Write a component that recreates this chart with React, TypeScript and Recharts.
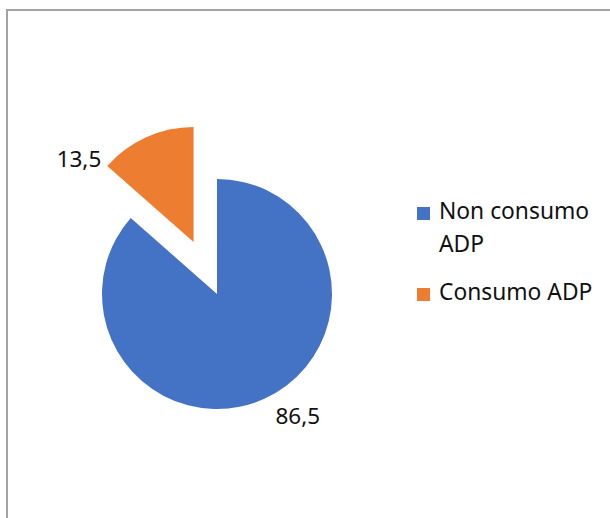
import React from "react";
import { PieChart, Pie, Cell, Legend } from "recharts";

const categories = ["Non consumo ADP", "Consumo ADP"];
const values = [86.5, 13.5];
const valueLabels = ["86,5", "13,5"];
const colors = ["#4472C4", "#ED7D31"];

const data = categories.map((name, i) => ({ name, value: values[i] }));

const CX = 209;
const CY = 283;
const R = 115;
const EXPLODE = 57;
const FONT = "'Noto Sans', sans-serif";

// explode offset of second slice, from its mid angle (clockwise from top)
const total = values.reduce((a, b) => a + b, 0);
const orangeMidFrac = (values[0] + values[1] / 2) / total;
const orangeMidRad = ((90 - 360 * orangeMidFrac) * Math.PI) / 180;
const DX = EXPLODE * Math.cos(orangeMidRad);
const DY = -EXPLODE * Math.sin(orangeMidRad);

// label layout tweaks (angle shift in degrees, radial distance)
const labelLayout = [
  { shift: 9.3, dist: 146 },
  { shift: 29.5, dist: 142 },
];

const RAD = Math.PI / 180;

function makeLabel(only: number) {
  return (props: any) => {
    const { cx, cy, midAngle, index } = props;
    if (index !== only) return null;
    const lay = labelLayout[index];
    const a = (midAngle + lay.shift) * RAD;
    const x = cx + lay.dist * Math.cos(a);
    const y = cy - lay.dist * Math.sin(a);
    return (
      <text
        x={x}
        y={y}
        textAnchor="middle"
        dominantBaseline="central"
        fill="#111"
        fontSize={22.5}
        fontFamily={FONT}
      >
        {valueLabels[index]}
      </text>
    );
  };
}

const LegendContent = () => (
  <div style={{ fontFamily: FONT, fontSize: 22.8, lineHeight: "33px", color: "#111" }}>
    {categories.map((c, i) => (
      <div key={c} style={{ display: "flex", alignItems: "flex-start", marginBottom: 15 }}>
        <div
          style={{
            width: 13,
            height: 13,
            background: colors[i],
            marginTop: 13,
            marginRight: 9,
            flex: "0 0 auto",
          }}
        />
        <div style={{ width: 164 }}>{c}</div>
      </div>
    ))}
  </div>
);

export default function App() {
  return (
    <div
      style={{
        position: "absolute",
        left: 6,
        top: 9,
        width: 604,
        height: 509,
        borderTop: "2px solid #a3a3a3",
        borderLeft: "2px solid #a3a3a3",
        boxSizing: "border-box",
        background: "#fff",
        overflow: "hidden",
      }}
    >
      <PieChart width={602} height={507} margin={{ top: 0, right: 0, bottom: 0, left: 0 }}>
        <Pie
          data={data}
          dataKey="value"
          nameKey="name"
          cx={CX}
          cy={CY}
          outerRadius={R}
          startAngle={90}
          endAngle={-270}
          stroke="none"
          isAnimationActive={false}
          label={makeLabel(0)}
          labelLine={false}
        >
          {data.map((d, i) => (
            <Cell key={d.name} fill={i === 0 ? colors[0] : "none"} />
          ))}
        </Pie>
        <Pie
          data={data}
          dataKey="value"
          nameKey="name"
          cx={CX + DX}
          cy={CY + DY}
          outerRadius={R}
          startAngle={90}
          endAngle={-270}
          stroke="none"
          isAnimationActive={false}
          label={makeLabel(1)}
          labelLine={false}
        >
          {data.map((d, i) => (
            <Cell key={d.name} fill={i === 1 ? colors[1] : "none"} />
          ))}
        </Pie>
        <Legend
          layout="vertical"
          verticalAlign="top"
          align="right"
          content={<LegendContent />}
          wrapperStyle={{ left: 409, top: 183, width: 200, right: "auto" }}
        />
      </PieChart>
    </div>
  );
}
